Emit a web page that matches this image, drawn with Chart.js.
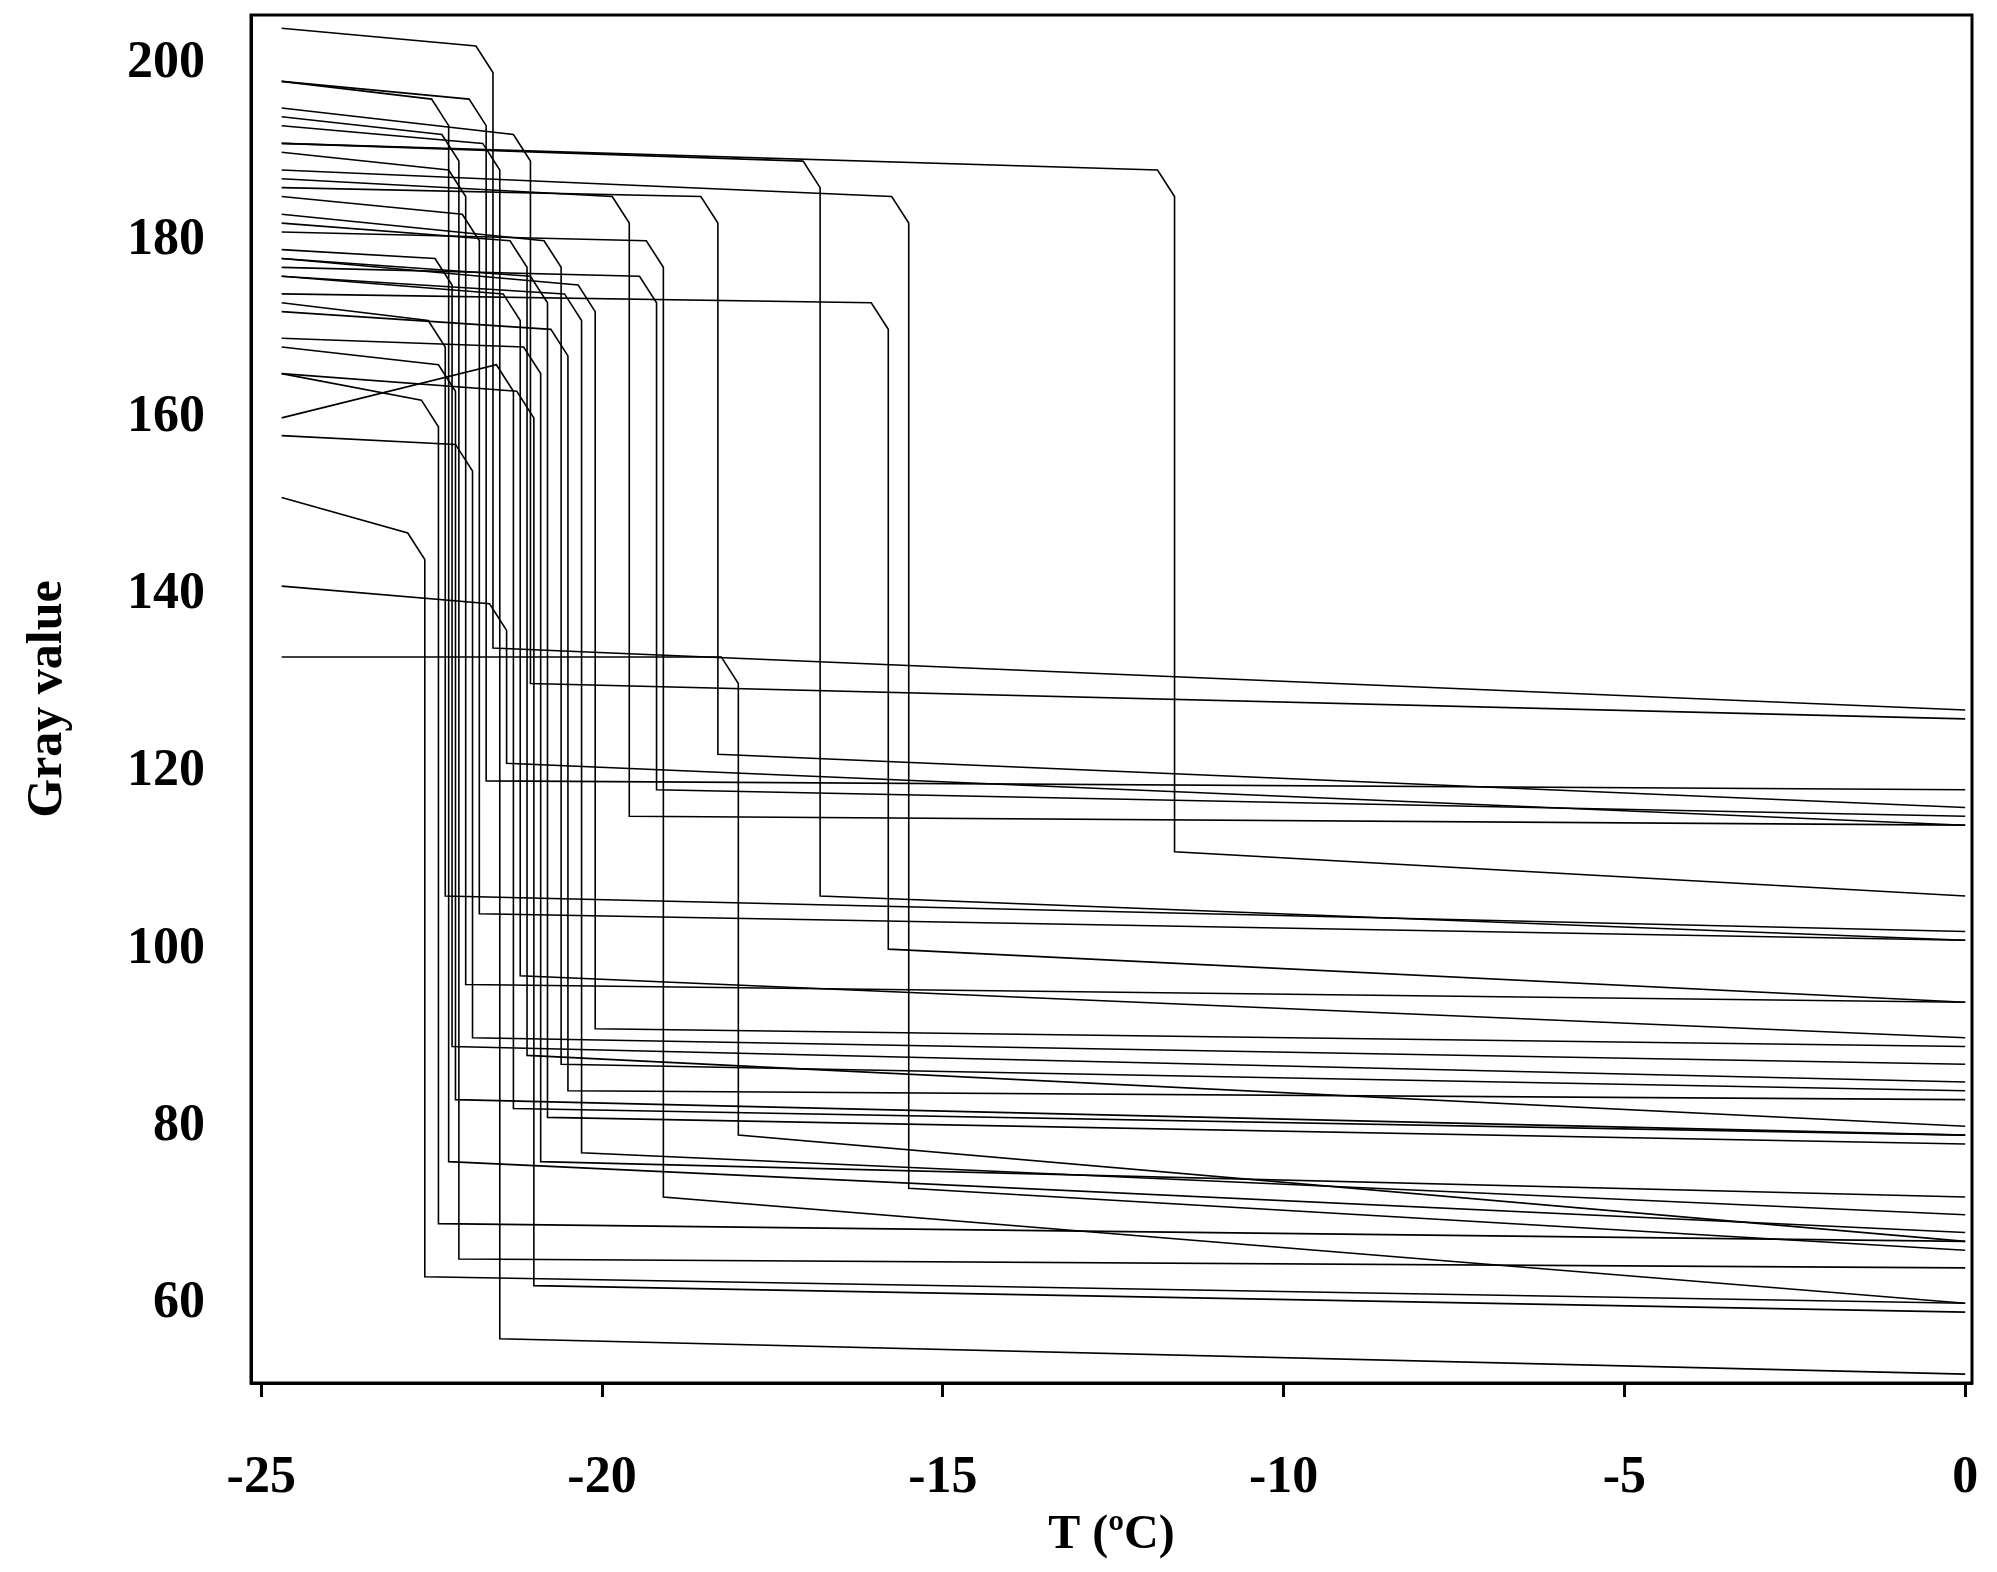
<!DOCTYPE html>
<html><head><meta charset="utf-8">
<script src="https://cdn.jsdelivr.net/npm/chart.js@4"></script>
<style>html,body{margin:0;padding:0;background:#fff}#w{width:1997px;height:1572px}</style>
</head><body><div id="w"><canvas id="c"></canvas></div>
<script>
const xTicks=[-25,-20,-15,-10,-5,0];
const yTicks=[60,80,100,120,140,160,180,200];
const startT=-24.7;
const freezeT=[-11.6,-15.5,-16.8,-15.8,-18.0,-18.3,-19.1,-19.6,-20.1,-20.3,-20.6,-20.8,-20.9,-21.0,-21.1,-21.2,-21.3,-21.5,-21.6,-21.7,-21.8,-21.9,-22.0,-22.1,-22.2,-22.3,-22.6,-22.4,-20.5,-21.4,-22.15,-19.2,-21.05,-22.25];
const startGray=[191,188,191,174,133,186,181,187,178,176,183,178,169,165,182,176,160,193,204,198,185,158,190,194,179,173,151,165,172,141,168,177,195,198];
const preGray=[188,185,189,173,133,185,180,185,175,174,180,176,168,163,180,174,166,191,202,196,183,157,188,192,178,171,147,162,170,139,166,176,192,196];
const postGray=[111,73,106,100,79,122,72,115,91,77,87,81,76,62,88,97,82,56,134,119,104,90,96,65,89,106,63,69,84,121,83,118,130,76];
const endGray=[106,66,101,94,67,116,60,114,89,70,84,78,72,59,80,90,79,52,127,118,101,87,94,64,85,102,60,67,83,114,79,115,126,68];

const datasets=freezeT.map((t,i)=>({
  data:[{x:startT,y:startGray[i]},{x:t-0.25,y:preGray[i]},{x:t,y:preGray[i]-3},{x:t,y:postGray[i]},{x:0,y:endGray[i]}],
  borderColor:'#000',borderWidth:1.6,pointRadius:0,showLine:true,tension:0,fill:false
}));
const frame={id:'frame',afterDraw(c){const a=c.chartArea,x=c.ctx;x.save();x.strokeStyle='#000';x.lineWidth=3;x.strokeRect(a.left,a.top,a.right-a.left,a.bottom-a.top);x.restore();}};
const font={family:'Liberation Serif',weight:'bold',size:52};
new Chart(document.getElementById('c'),{type:'scatter',data:{datasets},plugins:[frame],
options:{responsive:true,maintainAspectRatio:false,animation:false,
layout:{padding:{top:15,right:25,left:14,bottom:4}},
plugins:{legend:{display:false},tooltip:{enabled:false}},
scales:{
 x:{type:'linear',min:-25.15,max:0.1,afterBuildTicks:s=>{s.ticks=xTicks.map(v=>({value:v}))},
   grid:{display:true,drawOnChartArea:false,drawTicks:true,tickLength:14,tickWidth:3,tickColor:'#000'},border:{color:'#000',width:3},
   ticks:{color:'#000',font,padding:50},
   afterFit:s=>{s.height=185;s.paddingRight=0;s.paddingLeft=0;},
   title:{display:true,text:'T (ºC)',color:'#000',font:{family:'Liberation Serif',weight:'bold',size:48},padding:{top:-30}}},
 y:{min:51,max:205.5,afterBuildTicks:s=>{s.ticks=yTicks.map(v=>({value:v}))},
   grid:{display:false,drawTicks:true,tickLength:40,tickWidth:0,tickColor:'rgba(0,0,0,0)'},border:{color:'#000',width:3},
   ticks:{color:'#000',font,padding:6},
   afterFit:s=>{s.width=237;s.paddingTop=0;s.paddingBottom=0;},
   title:{display:true,text:'Gray value',color:'#000',font:{family:'Liberation Serif',weight:'bold',size:50},padding:{bottom:30}}}
}}});
</script></body></html>
